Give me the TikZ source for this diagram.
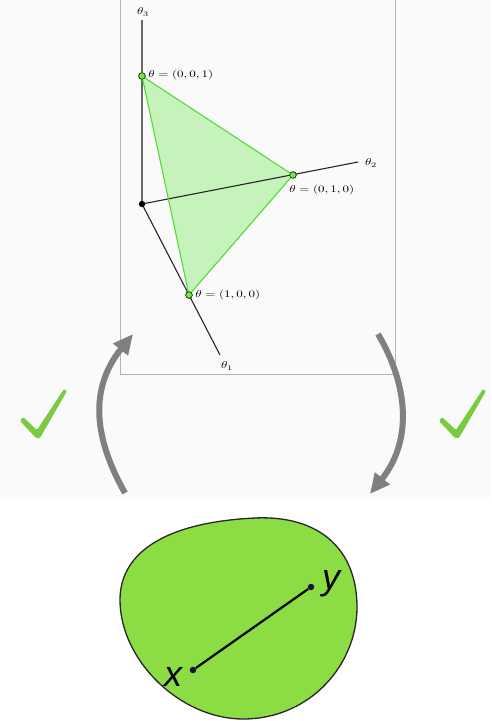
\documentclass[tikz,border=0pt]{standalone}
\usepackage{fontspec}
\usepackage{tikz}
\usetikzlibrary{arrows.meta,positioning}
\newfontfamily\letterfont{Liberation Sans}
\definecolor{bgtop}{HTML}{FAFAFA}
\definecolor{framegray}{HTML}{B4B4B4}
\definecolor{simplexfill}{HTML}{C6F3BC}
\definecolor{simplexedge}{HTML}{55D935}
\definecolor{vertfill}{HTML}{8EDC4C}
\definecolor{flowgray}{HTML}{808080}
\definecolor{tickgreen}{HTML}{7BCB42}
\definecolor{blobgreen}{HTML}{8CDD44}
\definecolor{dotblue}{HTML}{10183A}

\begin{document}
\begin{tikzpicture}[
    x=1pt, y=-1pt,
    axis/.style={line width=1.1pt, black!85},
    edge/.style={line width=1.1pt, simplexedge},
    vert/.style={circle, draw=green!35!black, fill=vertfill, line width=0.7pt, inner sep=0pt, minimum size=6.5pt},
    lab/.style={font=\fontsize{10}{12}\selectfont, xscale=1.3, inner sep=0pt},
    flow/.style={line width=6pt, flowgray, -{Triangle[length=20pt,width=18pt]}},
    tickmark/.style={fill=tickgreen, rounded corners=1.2pt},
    letter/.style={font=\letterfont\itshape\fontsize{36}{38}\selectfont, inner sep=0pt},
    endpt/.style={circle, fill=dotblue, inner sep=0pt, minimum size=6.5pt}
]
    \fill[bgtop] (0,0) rectangle (491,497);
    \fill[white] (0,497) rectangle (491,721);
    \useasboundingbox (0,0) rectangle (491,721);

    % simplex panel
    \draw[framegray, line width=0.8pt] (120,0) |- (395,374) -- (395,0);

    \coordinate (o) at (142,204);
    \coordinate (a1) at (220,355);
    \coordinate (a2) at (358,162);
    \coordinate (a3) at (142,20);
    \node[vert] (e3) at (142,76) {};
    \node[vert] (e2) at (293,175) {};
    \node[vert] (e1) at (189,295) {};

    \fill[simplexfill] (e3.center) -- (e2.center) -- (e1.center) -- cycle;
    \draw[axis, black!60] (o) -- (a3);
    \draw[axis] (o) -- (a2);
    \draw[axis] (o) -- (a1);
    \draw[edge, line join=round] (e3.center) -- (e2.center) -- (e1.center) -- cycle;
    \fill[black] (o) circle (3.2pt);
    \node[vert] at (e3) {};
    \node[vert] at (e2) {};
    \node[vert] at (e1) {};

    \node[lab] (t3) at (143,12) {$\theta_3$};
    \node[lab] (t2) at (371,163) {$\theta_2$};
    \node[lab] (t1) at (227,366) {$\theta_1$};
    \node[lab, anchor=west] (l3) at (148,75) {$\theta=(0,0,1)$};
    \node[lab, anchor=west] (l2) at (289,190) {$\theta=(0,1,0)$};
    \node[lab, anchor=west] (l1) at (195,295) {$\theta=(1,0,0)$};

    % arrows and ticks
    \coordinate (upfrom) at (125,493);
    \coordinate (upto) at (133,334);
    \coordinate (downfrom) at (378,334);
    \coordinate (downto) at (370,494);
    \draw[flow] (upfrom) .. controls (95,440) and (88,390) .. (upto);
    \draw[flow] (downfrom) .. controls (408,385) and (413,440) .. (downto);
    \foreach \dx in {0,419}
        \fill[tickmark, xshift=\dx pt] (20,421) -- (23,417) -- (37,430)
            -- (64,389) -- (67,391) -- (40,438) -- (36,438) -- cycle;

    % convex set
    \draw[line width=1.3pt, fill=blobgreen, draw=black!85] (120,600)
        .. controls (120,550) and (170,522) .. (255,518)
        .. controls (320,515) and (357,550) .. (357,607)
        .. controls (357,665) and (310,719) .. (243,719)
        .. controls (180,719) and (120,660) .. (120,600) -- cycle;
    \node[endpt] (px) at (193,670) {};
    \node[endpt] (py) at (311,587) {};
    \draw[line width=2.2pt, black] (px) -- (py);
    \node[letter] (xl) at (173,677) {x};
    \node[letter] (yl) at (331,584) {y};
\end{tikzpicture}
\end{document}
